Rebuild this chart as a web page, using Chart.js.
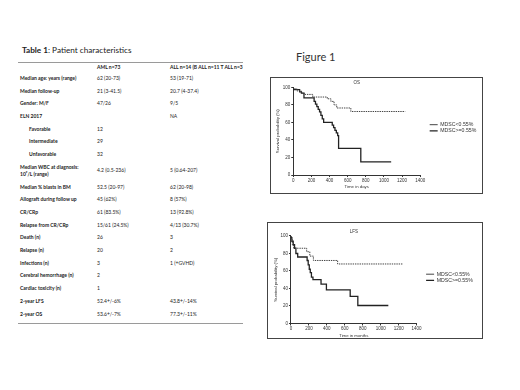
<!DOCTYPE html>
<html>
<head>
<meta charset="utf-8">
<script src="https://cdn.jsdelivr.net/npm/chart.js@4"></script>
<style>
    body {
        margin: 0;
        width: 520px;
        height: 390px;
        background: #fff;
        position: relative;
        overflow: hidden;
        font-family: Lato, "Open Sans", sans-serif;
        color: #222;
    }
    #tblTitle {
        position: absolute;
        left: 22px;
        top: 45px;
        font-size: 8.2px;
        white-space: nowrap;
    }
    #tbl {
        position: absolute;
        left: 18px;
        top: 63px;
        width: 225px;
        border-collapse: collapse;
        table-layout: fixed;
    }
    #tbl td {
        font-size: 5px;
        line-height: 7px;
        height: 12.7px;
        padding: 0 0 0 1px;
        vertical-align: middle;
        white-space: nowrap;
        overflow: hidden;
    }
    #tbl td.lbl { font-weight: bold; padding-left: 2px; }
    #tbl td.ind { padding-left: 11px; }
    #tbl tr.head td { height: 9px; font-weight: bold; }
    #tbl tr.tall td { height: 20px; }
    .rule { position: absolute; left: 18px; width: 225px; height: 1px; background: #9a9a9a; }
    #fig {
        position: absolute;
        left: 296px;
        top: 50px;
        font-size: 11px;
        color: #333;
    }
    .box {
        position: absolute;
        border: 1px solid #444;
        background: #fff;
    }
    #box1 { left: 270px; top: 77px; width: 211px; height: 115px; }
    #box2 { left: 267px; top: 222px; width: 214px; height: 115px; }
</style>
</head>
<body>
<div id="tblTitle"><b>Table 1</b>: Patient characteristics</div>
<div class="rule" style="top:62px"></div>
<table id="tbl">
    <colgroup><col style="width:78px"><col style="width:73px"><col style="width:74px"></colgroup>
    <tbody id="tblBody"></tbody>
</table>
<div class="rule" style="top:323px"></div>
<div id="fig">Figure 1</div>
<div class="box" id="box1"><canvas id="osChart"></canvas></div>
<div class="box" id="box2"><canvas id="lfsChart"></canvas></div>

<script>
// Table rows: label, AML, ALL
const tableHead = ['', 'AML n=73', 'ALL n=14 (B ALL n=11 T ALL n=3'];
const tableLabels = ['Median age: years (range)', 'Median follow-up', 'Gender: M/F', 'ELN 2017',
    'Favorable', 'Intermediate', 'Unfavorable', 'Median WBC at diagnosis:<br>10⁹/L (range)',
    'Median % blasts in BM', 'Allograft during follow up', 'CR/CRp', 'Relapse from CR/CRp',
    'Death (n)', 'Relapse (n)', 'Infections (n)', 'Cerebral hemorrhage (n)', 'Cardiac toxicity (n)',
    '2-year LFS', '2-year OS'];
const amlValues = ['62 (20-73)', '21 (3-41.5)', '47/26', '', '12', '29', '32', '4.2 (0.5-236)',
    '52.5 (20-97)', '45 (62%)', '61 (83.5%)', '15/61 (24.5%)', '26', '20', '3', '2', '1',
    '52.4+/-6%', '53.6+/-7%'];
const allValues = ['53 (19-71)', '20.7 (4-37.4)', '9/5', 'NA', '', '', '', '5 (0.64-207)',
    '62 (20-98)', '8 (57%)', '13 (92.8%)', '4/13 (30.7%)', '3', '2', '1 (+GVHD)', '', '',
    '43.8+/-14%', '77.3+/-11%'];

// Kaplan-Meier curves (days, survival %)
const osLowDays  = [0, 40, 90, 120, 215, 375, 415, 450, 480, 635, 680, 1235];
const osLowSurv  = [100, 98.5, 96, 93.5, 92, 89, 87, 84, 80, 76.5, 72.5, 72.5];
const osHighDays = [0, 70, 90, 118, 230, 245, 260, 275, 290, 305, 320, 335, 430, 445, 460, 475, 490, 500, 745, 1080];
const osHighSurv = [100, 97.5, 95, 93.5, 88, 84, 81, 78, 75, 72, 68, 64, 60, 57, 54, 51, 48, 45, 30.5, 15];

const lfsLowDays  = [0, 15, 30, 175, 210, 250, 520, 595, 1245];
const lfsLowSurv  = [100, 96, 90, 86, 82, 77, 72, 68, 68];
const lfsHighDays = [0, 10, 25, 40, 55, 75, 180, 192, 204, 215, 228, 245, 335, 395, 660, 745, 1040, 1085];
const lfsHighSurv = [100, 98, 94, 90, 86, 80, 76, 72, 67, 62, 58, 53, 50, 45, 38.5, 31, 20.5, 20.5];

const seriesNames = ['MDSC<0.55%', 'MDSC>=0.55%'];
const xTicks = [0, 200, 400, 600, 800, 1000, 1200, 1400];
const yTicks = [0, 20, 40, 60, 80, 100];

function buildTable() {
    const tbody = document.getElementById('tblBody');
    let html = '<tr class="head">' + tableHead.map(t => `<td>${t}</td>`).join('') + '</tr>';
    tableLabels.forEach((label, i) => {
        const indent = (i >= 4 && i <= 6) ? ' ind' : '';
        const tall = label.indexOf('<br>') >= 0 ? ' class="tall"' : '';
        html += `<tr${tall}><td class="lbl${indent}">${label}</td><td>${amlValues[i]}</td><td>${allValues[i]}</td></tr>`;
    });
    tbody.innerHTML = html;
}

function toPoints(days, surv) {
    return days.map((d, i) => ({ x: d, y: surv[i] }));
}

// nudge the right-hand legend a little, like in the original figure
const legendShift = {
    id: 'legendShift',
    afterLayout(chart, args, opts) {
        const lg = chart.legend;
        lg.top += opts.dy;
        lg.bottom += opts.dy;
        lg.left += opts.dx;
        lg.right += opts.dx;
    }
};

function makeChart(id, title, xTitle, lowDays, lowSurv, highDays, highSurv, pad, legendDy) {
    const family = '"Liberation Sans", Arial, sans-serif';
    const tickFont = { family: family, size: 4.5 };
    const font = { family: family, size: 4.3 };
    const ink = '#333';
    return new Chart(document.getElementById(id), {
        type: 'line',
        data: {
            datasets: [{
                label: seriesNames[0],
                data: toPoints(lowDays, lowSurv),
                borderColor: '#444',
                borderWidth: 1,
                borderDash: [1.4, 0.9],
                stepped: 'after',
                pointRadius: 0,
                fill: false
            }, {
                label: seriesNames[1],
                data: toPoints(highDays, highSurv),
                borderColor: '#222',
                borderWidth: 1.3,
                stepped: 'after',
                pointRadius: 0,
                fill: false
            }]
        },
        plugins: [legendShift],
        options: {
            responsive: true,
            maintainAspectRatio: false,
            animation: false,
            layout: { padding: pad },
            plugins: {
                legendShift: { dx: 8.5, dy: legendDy },
                title: {
                    display: true,
                    text: title,
                    fullSize: false,
                    color: ink,
                    font: { family: family, size: 4.5, weight: 'normal' },
                    padding: { top: 2, bottom: 2 }
                },
                legend: {
                    position: 'right',
                    labels: {
                        usePointStyle: true,
                        pointStyle: 'line',
                        pointStyleWidth: 8,
                        boxHeight: 3,
                        padding: 1,
                        color: ink,
                        font: { family: family, size: 5.2 }
                    }
                },
                tooltip: { enabled: false }
            },
            scales: {
                x: {
                    type: 'linear',
                    min: xTicks[0],
                    max: xTicks[xTicks.length - 1],
                    afterBuildTicks: axis => { axis.ticks = xTicks.map(v => ({ value: v })); },
                    ticks: { autoSkip: false, maxRotation: 0, color: ink, font: tickFont, padding: 1,
                        callback: v => String(v) },
                    grid: { drawOnChartArea: false, tickLength: 2, color: ink },
                    border: { color: ink, width: 1 },
                    title: { display: true, text: xTitle, color: ink, font: font, padding: 0 }
                },
                y: {
                    min: yTicks[0],
                    max: yTicks[yTicks.length - 1],
                    afterBuildTicks: axis => { axis.ticks = yTicks.map(v => ({ value: v })); },
                    ticks: { color: ink, font: tickFont, padding: 1 },
                    grid: { drawOnChartArea: false, tickLength: 2, color: ink },
                    border: { color: ink, width: 1 },
                    title: { display: true, text: 'Survival probability (%)', color: ink, font: font, padding: 1 }
                }
            }
        }
    });
}

document.addEventListener('DOMContentLoaded', function() {
    buildTable();
    makeChart('osChart', 'OS', 'Time in days', osLowDays, osLowSurv, osHighDays, osHighSurv,
        { left: 3.6, top: 0, right: 13.3, bottom: 3.4 }, -6);
    makeChart('lfsChart', 'LFS', 'Time in months', lfsLowDays, lfsLowSurv, lfsHighDays, lfsHighSurv,
        { left: 4.3, top: 3.6, right: 17.3, bottom: 0 }, -5);
});
</script>
</body>
</html>
